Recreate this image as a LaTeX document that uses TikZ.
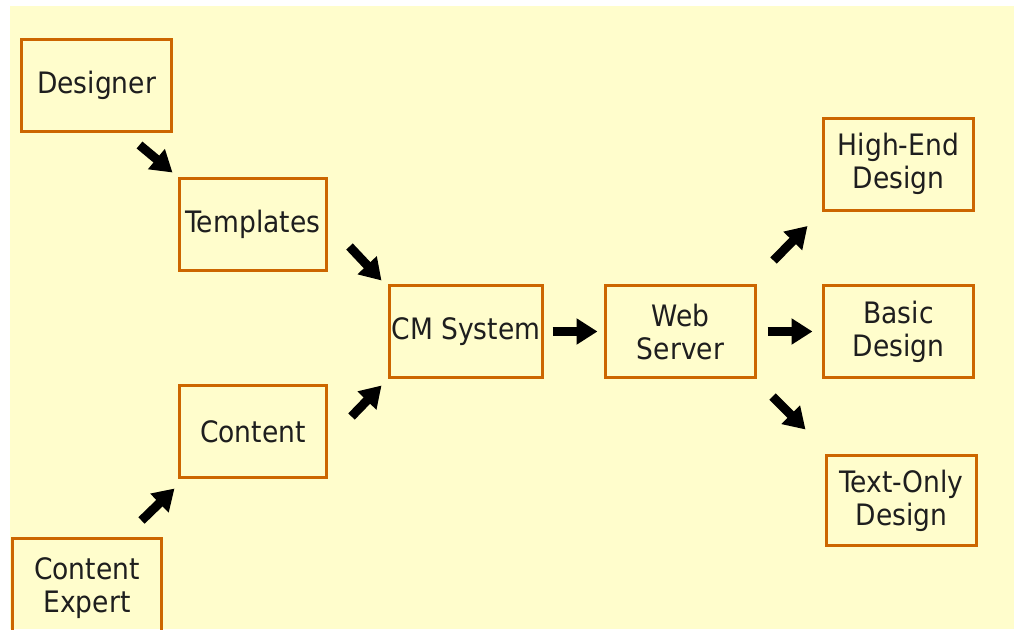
\documentclass[tikz,border=0pt]{standalone}
\usepackage{fontspec}
\setmainfont{DejaVu Sans Condensed}
\usetikzlibrary{arrows.meta}
\definecolor{paper}{HTML}{FFFDCC}
\definecolor{boxline}{HTML}{CC6600}
\definecolor{ink}{HTML}{1E1E1E}

\begin{document}
\begin{tikzpicture}[x=1pt,y=-1pt,
  stage/.style={draw=boxline, line width=3pt, minimum width=150pt, minimum height=92pt,
    inner sep=0pt, align=center, text=ink, font=\fontsize{29.5}{33}\selectfont},
  push/.style={line width=9pt, -{Triangle[length=21pt,width=25pt]}}]
\clip (0,0) rectangle (1014,629);
\fill[white] (0,0) rectangle (1014,629);
\fill[paper] (10,6) rectangle (1014,629);

\node[stage] (designer) at (96.5,85) {Designer};
\node[stage, minimum width=147pt] (templates) at (253,224.5) {Templates};
\node[stage, minimum width=147pt] (content) at (253,431.5) {Content};
\node[stage, minimum width=149pt, minimum height=99pt] (expert) at (87,588) {Content\\Expert};
\node[stage, minimum width=153pt] (cms) at (466,331.5) {CM System};
\node[stage] (web) at (680.5,331.5) {Web\\Server};
\node[stage] (highend) at (898.5,164) {High-End\\Design};
\node[stage] (basic) at (898.5,331.5) {Basic\\Design};
\node[stage, minimum height=90pt] (textonly) at (901.5,500.5) {Text-Only\\Design};

\draw[push] ([xshift=-33.5pt,yshift=-12.5pt]designer.south east) -- ([xshift=-5.5pt,yshift=4.5pt]templates.north west);
\draw[push] ([xshift=21.5pt,yshift=25.5pt]templates.south east) -- ([xshift=-6.5pt,yshift=3.5pt]cms.north west);
\draw[push] ([xshift=23.5pt,yshift=-32.5pt]content.north east) -- ([xshift=-6.5pt,yshift=-6.5pt]cms.south west);
\draw[push] ([xshift=-21.5pt,yshift=16.5pt]expert.north east) -- ([xshift=-3.5pt,yshift=-9.5pt]content.south west);
\draw[push, shorten <=8.5pt, shorten >=6.5pt] (cms.east) -- (web.west);
\draw[push] ([xshift=16.5pt,yshift=23.5pt]web.north east) -- ([xshift=-14.5pt,yshift=-14.5pt]highend.south west);
\draw[push, shorten <=10.5pt, shorten >=9.5pt] (web.east) -- (basic.west);
\draw[push] ([xshift=15.5pt,yshift=-17.5pt]web.south east) -- ([xshift=-19.5pt,yshift=24.5pt]textonly.north west);
\end{tikzpicture}
\end{document}
